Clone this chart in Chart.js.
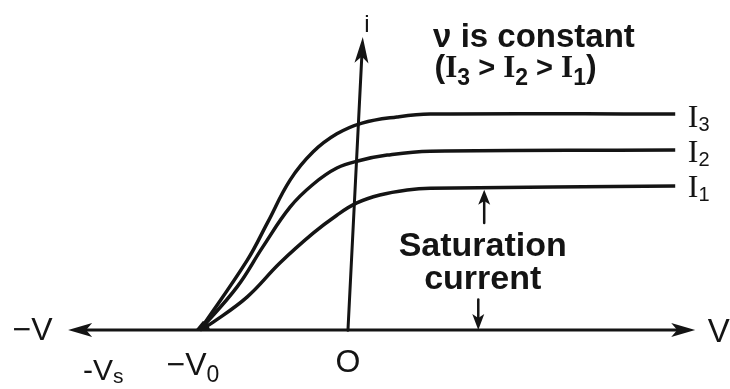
<!DOCTYPE html>
<html>
<head>
<meta charset="utf-8">
<script src="https://cdn.jsdelivr.net/npm/chart.js@4.4.1/dist/chart.umd.min.js"></script>
<style>
  body { margin: 0; background: #fff; }
  #wrap { width: 730px; height: 389px; }
</style>
</head>
<body>
<div id="wrap"><canvas id="chart" width="730" height="389"></canvas></div>
<script>
// photoelectric current vs potential, same frequency, three intensities
const v3 = [-2, -1.36, -1.09, -0.78, -0.47, -0.15, 0.19, 0.66, 1.11, 4.42];
const i3 = [0, 1.94, 2.97, 4.17, 4.95, 5.45, 5.75, 5.92, 6.0, 6.0];
const v2 = [-2, -1.5, -1.15, -0.78, -0.47, -0.15, 0.16, 0.53, 1.11, 4.42];
const i2 = [0, 1.19, 2.31, 3.42, 4.05, 4.5, 4.71, 4.86, 4.97, 5.0];
const v1 = [-2, -1.82, -1.36, -0.92, -0.47, -0.15, 0.12, 0.43, 0.8, 1.11, 4.42];
const i1 = [0, 0.22, 0.92, 1.86, 2.69, 3.19, 3.53, 3.75, 3.89, 3.94, 4.0];
const curveNames = ['3', '2', '1'];
const curveLabelY = [5.64, 4.67, 3.69];

// axis extents (same units as the data)
const axisLeft = -3.78, axisRight = 4.69, axisTop = 8.14, axisTopLean = 0.2;
const INK = '#141414';

const toPts = (xs, ys) => xs.map((x, k) => ({ x: x, y: ys[k] }));

function arrow(ctx, x1, y1, x2, y2, len, half) {
  const a = Math.atan2(y2 - y1, x2 - x1);
  ctx.beginPath();
  ctx.moveTo(x1, y1);
  ctx.lineTo(x2 - Math.cos(a) * len * 0.6, y2 - Math.sin(a) * len * 0.6);
  ctx.stroke();
  ctx.beginPath();
  ctx.moveTo(x2, y2);
  ctx.lineTo(x2 - Math.cos(a) * len - Math.sin(a) * half, y2 - Math.sin(a) * len + Math.cos(a) * half);
  ctx.lineTo(x2 - Math.cos(a) * len * 0.75, y2 - Math.sin(a) * len * 0.75);
  ctx.lineTo(x2 - Math.cos(a) * len + Math.sin(a) * half, y2 - Math.sin(a) * len - Math.cos(a) * half);
  ctx.closePath();
  ctx.fill();
}

// draws a run of [text, font, dy] pieces from x
function runText(ctx, x, y, parts) {
  parts.forEach(p => {
    ctx.font = p[1];
    ctx.fillText(p[0], x, y + (p[2] || 0));
    x += ctx.measureText(p[0]).width;
  });
}

const sketch = {
  id: 'sketch',
  beforeDatasetsDraw(chart) {
    const ctx = chart.ctx, sx = chart.scales.x, sy = chart.scales.y;
    const X = v => sx.getPixelForValue(v), Y = v => sy.getPixelForValue(v);
    ctx.save();
    ctx.strokeStyle = INK;
    ctx.fillStyle = INK;
    ctx.lineWidth = 3;
    ctx.lineCap = 'round';
    // V axis, both ways
    arrow(ctx, X(0), Y(0), X(axisRight), Y(0), 24, 7);
    arrow(ctx, X(0), Y(0), X(axisLeft), Y(0), 24, 7);
    // i axis
    arrow(ctx, X(0), Y(0), X(axisTopLean), Y(axisTop), 26, 7);
    // saturation current markers
    ctx.lineWidth = 2.5;
    arrow(ctx, X(1.84), Y(2.97), X(1.84), Y(3.9), 15, 6);
    arrow(ctx, X(1.76), Y(0.85), X(1.76), Y(0), 16, 6);
    // blob where the curves meet
    ctx.beginPath();
    ctx.moveTo(X(-2.06), Y(0));
    ctx.lineTo(X(-1.86), Y(0));
    ctx.lineTo(X(-1.9), Y(0.2));
    ctx.lineTo(X(-1.96), Y(0.25));
    ctx.closePath();
    ctx.fill();
    ctx.restore();
  },
  afterDatasetsDraw(chart) {
    const ctx = chart.ctx, sx = chart.scales.x, sy = chart.scales.y;
    const X = v => sx.getPixelForValue(v), Y = v => sy.getPixelForValue(v);
    const sans = 'Liberation Sans, Arial, sans-serif';
    const serif = 'Liberation Serif, Times New Roman, serif';
    ctx.save();
    ctx.fillStyle = INK;
    ctx.textBaseline = 'alphabetic';
    ctx.textAlign = 'left';

    runText(ctx, X(1.15), Y(7.86), [['\u03bd is constant', 'bold 33px ' + sans]]);
    runText(ctx, X(1.17), Y(7.03), [
      ['(', 'bold 32px ' + sans], ['I', 'bold 31px ' + serif], ['3', 'bold 23px ' + sans, 8],
      [' > ', 'bold 29px ' + sans], ['I', 'bold 31px ' + serif], ['2', 'bold 23px ' + sans, 8],
      [' > ', 'bold 29px ' + sans], ['I', 'bold 31px ' + serif], ['1', 'bold 23px ' + sans, 8],
      [')', 'bold 32px ' + sans]
    ]);

    runText(ctx, X(0.22), Y(8.28), [['i', '24px ' + sans]]);

    curveNames.forEach((n, k) => {
      runText(ctx, X(4.59), Y(curveLabelY[k]), [['I', '32px ' + serif], [n, '20px ' + sans, 4]]);
    });

    ctx.textAlign = 'center';
    ctx.font = 'bold 34px ' + sans;
    ctx.fillText('Saturation', X(1.82), Y(2.06));
    ctx.fillText('current', X(1.82), Y(1.14));
    ctx.font = '32px ' + sans;
    ctx.fillText('O', X(0), Y(-1.17));
    ctx.textAlign = 'left';

    runText(ctx, X(-4.53), Y(-0.28), [['\u2212V', '32px ' + sans]]);
    runText(ctx, X(4.86), Y(-0.33), [['V', '33px ' + sans]]);
    runText(ctx, X(-3.58), Y(-1.39), [['-V', '30px ' + sans], ['s', '21px ' + sans, 3]]);
    runText(ctx, X(-2.45), Y(-1.25), [['\u2212V', '32px ' + sans], ['0', '23px ' + sans, 7]]);
    ctx.restore();
  }
};

const lineStyle = {
  borderColor: INK,
  borderWidth: 3.5,
  pointRadius: 0,
  showLine: true,
  fill: false,
  tension: 0.4
};

new Chart(document.getElementById('chart'), {
  type: 'scatter',
  data: {
    datasets: [
      Object.assign({ label: 'I3', data: toPts(v3, i3) }, lineStyle),
      Object.assign({ label: 'I2', data: toPts(v2, i2) }, lineStyle),
      Object.assign({ label: 'I1', data: toPts(v1, i1) }, lineStyle)
    ]
  },
  options: {
    responsive: false,
    animation: false,
    layout: { padding: 0 },
    plugins: { legend: { display: false }, tooltip: { enabled: false } },
    scales: {
      x: { type: 'linear', min: -4.7, max: 5.16, display: false },
      y: { type: 'linear', min: -1.64, max: 9.17, display: false }
    }
  },
  plugins: [sketch]
});
</script>
</body>
</html>
